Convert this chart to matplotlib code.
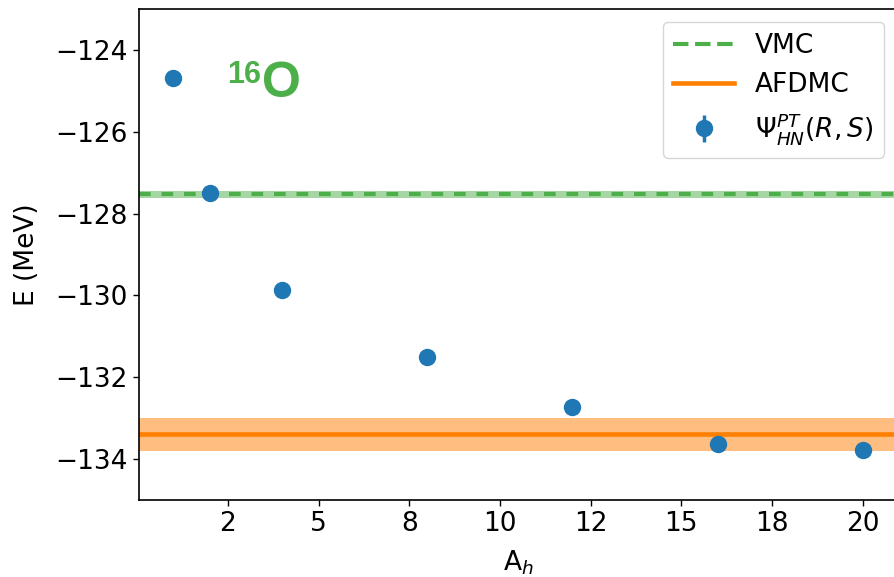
import numpy as np
import matplotlib
matplotlib.use("Agg")
import matplotlib.pyplot as plt
from matplotlib.ticker import FormatStrFormatter
from matplotlib.lines import Line2D

# Data
A_h = [1, 2, 4, 8, 12, 16, 20]
E_psi = [-124.69, -127.49, -129.87, -131.50, -132.73, -133.64, -133.77]
E_psi_err = [0.03, 0.03, 0.03, 0.03, 0.03, 0.03, 0.03]
E_vmc = -127.53
E_vmc_err = 0.08
E_afdmc = -133.39
E_afdmc_err = 0.40
xticks = [2.5, 5, 7.5, 10, 12.5, 15, 17.5, 20]
yticks = [-134, -132, -130, -128, -126, -124]

green = '#4daf4a'
orange = '#ff7f00'
blue = '#1f77b4'

plt.rcParams['font.size'] = 19
fig = plt.figure(figsize=(8.94, 5.77), dpi=100)
ax = fig.add_axes([0.1555, 0.1334, 0.848, 0.851])

xmin, xmax = 0.05, 20.95
xs = np.array([xmin, xmax])
ax.fill_between(xs, E_vmc - E_vmc_err, E_vmc + E_vmc_err, color=green, alpha=0.5, lw=0)
ax.plot(xs, [E_vmc, E_vmc], color=green, lw=3.0, dashes=(2.8, 2.6))
ax.fill_between(xs, E_afdmc - E_afdmc_err, E_afdmc + E_afdmc_err, color=orange, alpha=0.5, lw=0)
ax.plot(xs, [E_afdmc, E_afdmc], '-', color=orange, lw=3.3)
eb = ax.errorbar(A_h, E_psi, yerr=E_psi_err, fmt='o', color=blue, ms=11.5, lw=2.5, zorder=5)

ax.text(2.47, -124.81, '16', color=green, fontsize=22, fontweight='bold',
        family='Liberation Sans', ha='left', va='baseline')
ax.text(3.43, -125.15, 'O', color=green, fontsize=36, fontweight='bold',
        family='Liberation Sans', ha='left', va='baseline')

ax.set_xlim(xmin, xmax)
ax.set_ylim(-135, -123)
ax.set_xticks(xticks)
ax.xaxis.set_major_formatter(FormatStrFormatter('%.0f'))
ax.set_yticks(yticks)
ax.set_xlabel(r'A$_h$', labelpad=8)
ax.set_ylabel('E (MeV)', labelpad=11)
ax.tick_params(length=4.5, width=1.0)
for s in ax.spines.values():
    s.set_linewidth(1.2)

handles = [Line2D([], [], color=green, lw=3.0, ls='--'),
           Line2D([], [], color=orange, lw=3.3, ls='-'),
           eb]
labels = ['VMC', 'AFDMC', r'$\Psi^{PT}_{HN}(R,S)$']
ax.legend(handles, labels, loc='upper right', handlelength=2.3, fontsize=19)

fig.savefig('out.png', dpi=100)
